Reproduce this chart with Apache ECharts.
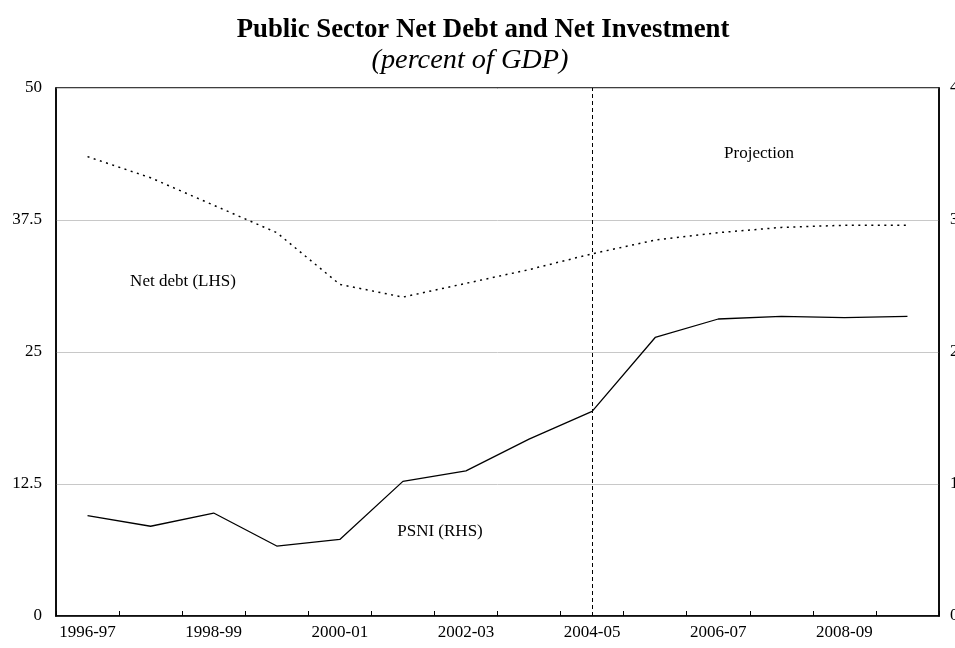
<!DOCTYPE html>
<html>
<head>
<meta charset="utf-8">
<script src="https://cdn.jsdelivr.net/npm/echarts@6/dist/echarts.min.js"></script>
<style>
  html, body { margin: 0; padding: 0; background: #fff; }
  #chart { width: 955px; height: 648px; }
</style>
</head>
<body>
<div id="chart"></div>
<script>
// Fiscal years on the horizontal axis
const years = ['1996-97', '1997-98', '1998-99', '1999-00', '2000-01', '2001-02', '2002-03',
               '2003-04', '2004-05', '2005-06', '2006-07', '2007-08', '2008-09', '2009-10'];

// Public sector net debt, percent of GDP (left axis)
const netDebt = [43.5, 41.5, 38.9, 36.3, 31.4, 30.2, 31.5, 32.8, 34.3, 35.6, 36.3, 36.8, 37.0, 37.0];

// Public sector net investment, percent of GDP (right axis)
const psni = [0.76, 0.68, 0.78, 0.53, 0.58, 1.02, 1.10, 1.34, 1.55, 2.11, 2.25, 2.27, 2.26, 2.27];

// First projected year
const projectionStart = '2004-05';

// Left and right axis ticks
const leftTicks = [0, 12.5, 25, 37.5, 50];
const rightTicks = [0, 1, 2, 3, 4];

const FONT = '"Liberation Serif", "Times New Roman", serif';

const chart = echarts.init(document.getElementById('chart'), null, { renderer: 'canvas' });

chart.setOption({
  animation: false,
  backgroundColor: '#ffffff',
  textStyle: { fontFamily: FONT, color: '#000' },
  grid: {
    left: 56, right: 16, top: 88, bottom: 32,
    containLabel: false,
    outerBoundsMode: 'none',
    show: true, borderColor: '#000', borderWidth: 1.5, backgroundColor: 'transparent'
  },
  graphic: [
    {
      type: 'text', x: 483, y: 30,
      style: { text: 'Public Sector Net Debt and Net Investment', fontFamily: FONT,
               fontSize: 26.8, fontWeight: 'bold', fill: '#000', align: 'center', verticalAlign: 'middle' }
    },
    {
      type: 'text', x: 470, y: 61,
      style: { text: '(percent of GDP)', fontFamily: FONT, fontStyle: 'italic',
               fontSize: 28.3, fill: '#000', align: 'center', verticalAlign: 'middle' }
    },
    {
      type: 'text', x: 183, y: 282,
      style: { text: 'Net debt (LHS)', fontFamily: FONT, fontSize: 17, fill: '#000',
               align: 'center', verticalAlign: 'middle' }
    },
    {
      type: 'text', x: 440, y: 532,
      style: { text: 'PSNI (RHS)', fontFamily: FONT, fontSize: 17, fill: '#000',
               align: 'center', verticalAlign: 'middle' }
    },
    {
      type: 'text', x: 759, y: 154,
      style: { text: 'Projection', fontFamily: FONT, fontSize: 17, fill: '#000',
               align: 'center', verticalAlign: 'middle' }
    }
  ],
  xAxis: {
    type: 'category',
    data: years,
    boundaryGap: true,
    axisLine: { show: true, lineStyle: { color: '#000', width: 1.5 } },
    axisTick: { show: true, inside: true, length: 5, interval: 0, lineStyle: { color: '#000', width: 1 } },
    axisLabel: { interval: 1, fontFamily: FONT, fontSize: 17, color: '#000', margin: 8 },
    splitLine: { show: false }
  },
  yAxis: [
    {
      type: 'value',
      position: 'left',
      min: leftTicks[0], max: leftTicks[leftTicks.length - 1], interval: 12.5,
      axisLine: { show: true, lineStyle: { color: '#000', width: 1.5 } },
      axisTick: { show: false },
      axisLabel: { fontFamily: FONT, fontSize: 17, color: '#000', margin: 14 },
      splitLine: { show: true, lineStyle: { color: '#c8c8c8', width: 1 } }
    },
    {
      type: 'value',
      position: 'right',
      min: rightTicks[0], max: rightTicks[rightTicks.length - 1], interval: 1,
      axisLine: { show: true, lineStyle: { color: '#000', width: 1.5 } },
      axisTick: { show: false },
      axisLabel: { fontFamily: FONT, fontSize: 17, color: '#000', margin: 11 },
      splitLine: { show: false }
    }
  ],
  series: [
    {
      name: 'Net debt (LHS)',
      type: 'line',
      yAxisIndex: 0,
      data: netDebt,
      symbol: 'none',
      lineStyle: { color: '#000', width: 1.5, type: [2, 4.5] },
      markLine: {
        silent: true,
        symbol: 'none',
        label: { show: false },
        lineStyle: { color: '#000', width: 1, type: [4, 3] },
        data: [{ xAxis: projectionStart }]
      }
    },
    {
      name: 'PSNI (RHS)',
      type: 'line',
      yAxisIndex: 1,
      data: psni,
      symbol: 'none',
      lineStyle: { color: '#000', width: 1.3, type: 'solid' }
    }
  ]
});
</script>
</body>
</html>
